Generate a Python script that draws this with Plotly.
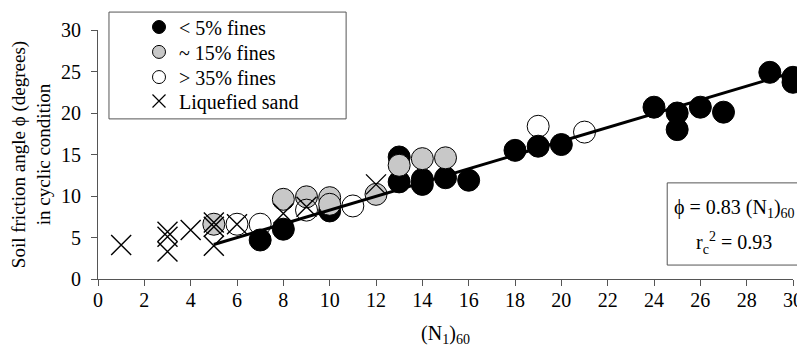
import plotly.graph_objects as go

# ---- data ----
black_x = [7, 8, 10, 13, 13, 14, 14, 15, 16, 18, 19, 20, 24, 25, 25, 26, 27, 29, 30, 30]
black_y = [4.7, 6.0, 8.2, 14.7, 11.7, 12.0, 11.4, 12.2, 11.9, 15.5, 16.0, 16.2, 20.7, 20.0, 18.0, 20.7, 20.1, 24.9, 24.3, 23.7]

gray_x = [5, 8, 9, 10, 10, 12, 13, 14, 15]
gray_y = [6.6, 9.6, 9.9, 9.8, 9.0, 10.2, 13.7, 14.5, 14.6]

open_x = [6, 7, 9, 11, 19, 21]
open_y = [6.6, 6.6, 8.3, 8.8, 18.4, 17.7]

liq_x = [1, 3, 3, 3, 4, 5, 5, 5, 6, 8, 9, 12]
liq_y = [4.1, 5.7, 5.1, 3.3, 5.9, 6.8, 6.3, 4.0, 6.6, 7.9, 8.7, 11.4]

fit_x = [5, 30]
fit_y = [4.15, 24.9]

legend_names = ["< 5% fines", "~ 15% fines", "> 35% fines", "Liquefied sand"]

FONT = "Liberation Serif, Times New Roman, serif"
GRAY = "#c8c8c8"
SZ = 22
FS = 20

fig = go.Figure()

fig.add_trace(go.Scatter(x=black_x, y=black_y, mode="markers", showlegend=False, cliponaxis=False,
                         marker=dict(size=SZ, color="black", line=dict(color="black", width=1))))
fig.add_trace(go.Scatter(x=gray_x, y=gray_y, mode="markers", showlegend=False, cliponaxis=False,
                         marker=dict(size=SZ, color=GRAY, line=dict(color="black", width=1))))
fig.add_trace(go.Scatter(x=open_x, y=open_y, mode="markers", showlegend=False, cliponaxis=False,
                         marker=dict(size=SZ, color="rgba(0,0,0,0)", line=dict(color="black", width=1))))
fig.add_trace(go.Scatter(x=liq_x, y=liq_y, mode="markers", showlegend=False, cliponaxis=False,
                         marker=dict(size=20, symbol="x-thin", color="black", line=dict(color="black", width=1.4))))
fig.add_trace(go.Scatter(x=fit_x, y=fit_y, mode="lines", showlegend=False,
                         line=dict(color="black", width=3)))

# legend entries, one legend per row for exact spacing
leg_styles = [
    dict(size=13, color="black", line=dict(color="black", width=1)),
    dict(size=13, color=GRAY, line=dict(color="black", width=1)),
    dict(size=13, color="white", line=dict(color="black", width=1)),
    dict(size=13, symbol="x-thin", color="black", line=dict(color="black", width=1.2)),
]
leg_ids = ["legend", "legend2", "legend3", "legend4"]
leg_rows_y = [1.012, 0.912, 0.811, 0.715]
for name, mk, lid in zip(legend_names, leg_styles, leg_ids):
    fig.add_trace(go.Scatter(x=[None], y=[None], mode="markers", name=name, marker=mk, legend=lid))

leg_common = dict(x=0.059, xanchor="left", yanchor="middle", bgcolor="rgba(0,0,0,0)",
                  borderwidth=0, font=dict(family=FONT, size=FS))

fig.update_layout(
    width=797, height=339,
    margin=dict(l=90, r=12, t=22, b=68, autoexpand=False),
    paper_bgcolor="white", plot_bgcolor="white",
    font=dict(family=FONT, size=FS, color="black"),
    showlegend=True,
    legend=dict(y=leg_rows_y[0], **leg_common),
    legend2=dict(y=leg_rows_y[1], **leg_common),
    legend3=dict(y=leg_rows_y[2], **leg_common),
    legend4=dict(y=leg_rows_y[3], **leg_common),
    xaxis=dict(range=[0, 30], tickmode="linear", tick0=0, dtick=2, automargin=False,
               showgrid=False, zeroline=False, showline=True, linecolor="#555", linewidth=1,
               ticks="outside", ticklen=6, tickcolor="#555", ticklabelstandoff=-3,
               tickfont=dict(family=FONT, size=FS),
               title=dict(text="(N<sub>1</sub>)<sub>60</sub>", font=dict(family=FONT, size=FS), standoff=18)),
    yaxis=dict(range=[0, 30], tickmode="linear", tick0=0, dtick=5, automargin=False,
               showgrid=False, zeroline=False, showline=True, linecolor="#555", linewidth=1,
               ticks="outside", ticklen=6, tickcolor="#555", ticklabelstandoff=6,
               tickfont=dict(family=FONT, size=FS),
               title=dict(text="Soil friction angle ϕ (degrees)<br>in cyclic condition",
                          font=dict(family=FONT, size=19), standoff=15)),
    shapes=[
        dict(type="rect", xref="paper", yref="paper", x0=0.0158, x1=0.357, y0=0.643, y1=1.072,
             line=dict(color="#555", width=1), fillcolor="rgba(0,0,0,0)", layer="above"),
        dict(type="rect", xref="paper", yref="paper", x0=0.819, x1=1.013, y0=0.056, y1=0.386,
             line=dict(color="#555", width=1), fillcolor="white", layer="above"),
    ],
    annotations=[
        dict(xref="paper", yref="paper", x=0.9158, y=0.285, xanchor="center", yanchor="middle",
             showarrow=False, text="ϕ = 0.83 (N<sub>1</sub>)<sub>60</sub>", font=dict(family=FONT, size=FS)),
        dict(xref="paper", yref="paper", x=0.9158, y=0.145, xanchor="center", yanchor="middle",
             showarrow=False, text="r<sub>c</sub><sup>2</sup> = 0.93", font=dict(family=FONT, size=FS)),
    ],
)

fig.write_html("out.html")
